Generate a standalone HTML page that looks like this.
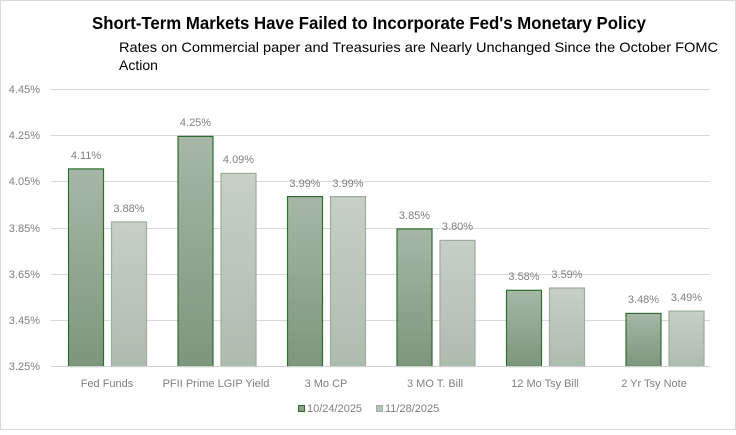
<!DOCTYPE html>
<html><head><meta charset="utf-8"><style>
body{margin:0;background:#fff}
svg text{font-family:"Liberation Sans",sans-serif}
</style></head><body>
<svg width="736" height="430" viewBox="0 0 736 430" xmlns="http://www.w3.org/2000/svg">
<defs>
<linearGradient id="d" x1="0" y1="0" x2="0" y2="1"><stop offset="0" stop-color="#a6b7a6"/><stop offset="1" stop-color="#7d967d"/></linearGradient>
<linearGradient id="l" x1="0" y1="0" x2="0" y2="1"><stop offset="0" stop-color="#c6d0c6"/><stop offset="1" stop-color="#aebcae"/></linearGradient>
</defs>
<rect x="0.5" y="0.5" width="735" height="429" fill="#fff" stroke="#d9d9d9"/>
<text x="92" y="29" textLength="554" lengthAdjust="spacingAndGlyphs" font-size="17.5" font-weight="bold" fill="#000">Short-Term Markets Have Failed to Incorporate Fed's Monetary Policy</text>
<text x="119" y="52" textLength="599" lengthAdjust="spacingAndGlyphs" font-size="14" fill="#000">Rates on Commercial paper and Treasuries are Nearly Unchanged Since the October FOMC</text>
<text x="119" y="70" font-size="14" fill="#000">Action</text>
<g stroke="#d9d9d9" stroke-width="1">
<line x1="51" x2="710" y1="89.5" y2="89.5"/><line x1="51" x2="710" y1="135.5" y2="135.5"/><line x1="51" x2="710" y1="181.5" y2="181.5"/><line x1="51" x2="710" y1="228.5" y2="228.5"/><line x1="51" x2="710" y1="274.5" y2="274.5"/><line x1="51" x2="710" y1="320.5" y2="320.5"/><line x1="51" x2="710" y1="366.5" y2="366.5"/>
</g>
<g font-size="11" fill="#7f7f7f" text-anchor="end">
<text x="40" y="93">4.45%</text><text x="40" y="139">4.25%</text><text x="40" y="185">4.05%</text><text x="40" y="232">3.85%</text><text x="40" y="278">3.65%</text><text x="40" y="324">3.45%</text><text x="40" y="370">3.25%</text>
</g>
<g stroke-width="1.2">
<rect x="68.5" y="168.9" width="35" height="197.6" fill="url(#d)" stroke="#2f6d2f"/>
<rect x="111.5" y="221.9" width="35" height="144.6" fill="url(#l)" stroke="#9bad9b"/>
<rect x="178" y="136.4" width="35" height="230.1" fill="url(#d)" stroke="#2f6d2f"/>
<rect x="221" y="173.4" width="35" height="193.1" fill="url(#l)" stroke="#9bad9b"/>
<rect x="287.5" y="196.6" width="35" height="169.9" fill="url(#d)" stroke="#2f6d2f"/>
<rect x="330.5" y="196.6" width="35" height="169.9" fill="url(#l)" stroke="#9bad9b"/>
<rect x="397" y="228.9" width="35" height="137.6" fill="url(#d)" stroke="#2f6d2f"/>
<rect x="440" y="240.4" width="35" height="126.1" fill="url(#l)" stroke="#9bad9b"/>
<rect x="506.5" y="290.3" width="35" height="76.2" fill="url(#d)" stroke="#2f6d2f"/>
<rect x="549.5" y="288" width="35" height="78.5" fill="url(#l)" stroke="#9bad9b"/>
<rect x="626" y="313.4" width="35" height="53.1" fill="url(#d)" stroke="#2f6d2f"/>
<rect x="669" y="311.1" width="35" height="55.4" fill="url(#l)" stroke="#9bad9b"/>
</g>
<line x1="51" x2="710" y1="366.5" y2="366.5" stroke="#d0d0d0"/>
<g font-size="11" fill="#7f7f7f" text-anchor="middle">
<text x="86" y="159">4.11%</text><text x="129" y="212">3.88%</text>
<text x="195.5" y="126">4.25%</text><text x="238.5" y="163">4.09%</text>
<text x="305" y="187">3.99%</text><text x="348" y="187">3.99%</text>
<text x="414.5" y="219">3.85%</text><text x="457.5" y="230">3.80%</text>
<text x="524" y="280">3.58%</text><text x="567" y="278">3.59%</text>
<text x="643.5" y="303">3.48%</text><text x="686.5" y="301">3.49%</text>
</g>
<g font-size="11" fill="#7f7f7f" text-anchor="middle">
<text x="107" y="387">Fed Funds</text><text x="216" y="387">PFII Prime LGIP Yield</text><text x="326" y="387">3 Mo CP</text><text x="435" y="387">3 MO T. Bill</text><text x="545" y="387">12 Mo Tsy Bill</text><text x="654" y="387">2 Yr Tsy Note</text>
</g>
<rect x="298.5" y="405.5" width="6" height="6" fill="#8aa08a" stroke="#2f6d2f"/>
<text x="307" y="412" font-size="11" fill="#7f7f7f">10/24/2025</text>
<rect x="376.5" y="405.5" width="6" height="6" fill="#b8c4b8" stroke="#9bad9b"/>
<text x="385" y="412" font-size="11" fill="#7f7f7f">11/28/2025</text>
</svg>
</body></html>
